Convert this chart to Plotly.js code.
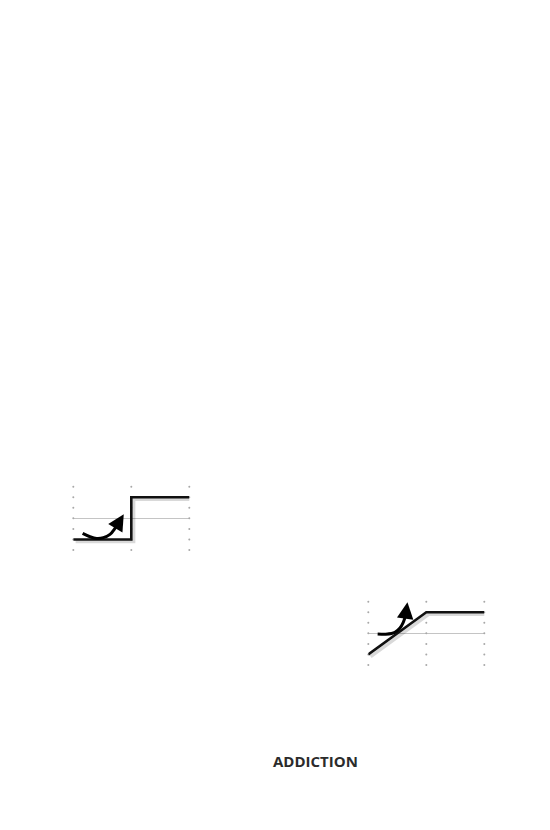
<!DOCTYPE html>
<html>
<head>
<meta charset="utf-8">
<script src="https://cdn.plot.ly/plotly-3.0.1.min.js"></script>
<style>html,body{margin:0;padding:0;background:#fff;}#chart{width:550px;height:830px;}</style>
</head>
<body>
<div id="chart"></div>
<script>
// grid dot positions (both panels)
const gridX = [0, 1, 2];
const gridY = [-3, -2, -1, 0, 1, 2, 3];

// panel 1: step response
const stepX = [0, 1, 1, 2];
const stepY = [-2, -2, 2, 2];
// panel 1 curved arrow
const arrow1X = [0.161, 0.288, 0.403, 0.518, 0.633, 0.719, 0.776];
const arrow1Y = [-1.425, -1.74, -1.90, -1.83, -1.52, -0.95, -0.47];
const arrow1Tip = [0.87, 0.40];

// panel 2: ramp response
const rampX = [0, 1, 2];
const rampY = [-2, 2, 2];
// panel 2 curved arrow
const arrow2X = [0.161, 0.30, 0.40, 0.46, 0.546, 0.603, 0.643];
const arrow2Y = [-0.06, -0.08, -0.02, 0.1, 0.51, 1.05, 1.68];
const arrow2Tip = [0.675, 2.94];

const labelText = "ADDICTION";

const W = 550, H = 830;
const shX = 0.04, shY = -0.2;

function gridTrace(xa, ya) {
  const xs = [], ys = [];
  gridX.forEach(x => gridY.forEach(y => { xs.push(x); ys.push(y); }));
  return {x: xs, y: ys, xaxis: xa, yaxis: ya, mode: 'markers', type: 'scatter',
    marker: {size: 2, color: '#a8a8a8'}, cliponaxis: false, hoverinfo: 'skip'};
}
function lineTrace(xs, ys, xa, ya, color, width, dx, dy) {
  return {x: xs.map(v => v + dx), y: ys.map(v => v + dy), xaxis: xa, yaxis: ya,
    mode: 'lines', type: 'scatter', line: {color: color, width: width},
    cliponaxis: false, hoverinfo: 'skip'};
}
function curveTrace(xs, ys, xa, ya) {
  return {x: xs, y: ys, xaxis: xa, yaxis: ya, mode: 'lines', type: 'scatter',
    line: {color: '#000', width: 3, shape: 'spline'}, cliponaxis: false, hoverinfo: 'skip'};
}

const data = [
  gridTrace('x', 'y'),
  lineTrace(stepX, stepY, 'x', 'y', 'rgba(0,0,0,0.15)', 3.5, shX, shY),
  lineTrace(stepX, stepY, 'x', 'y', '#111', 2.6, 0, 0),
  curveTrace(arrow1X, arrow1Y, 'x', 'y'),
  gridTrace('x2', 'y2'),
  lineTrace(rampX, rampY, 'x2', 'y2', 'rgba(0,0,0,0.15)', 3.5, shX, shY),
  lineTrace(rampX, rampY, 'x2', 'y2', '#111', 2.6, 0, 0),
  curveTrace(arrow2X, arrow2Y, 'x2', 'y2')
];

function xax(domain) {
  return {domain: domain, range: [0, 2], showgrid: false, zeroline: false,
    showticklabels: false, ticks: '', showline: false, fixedrange: true};
}
function yax(domain, anchor) {
  return {domain: domain, range: [-3, 3], showgrid: false, zeroline: true,
    zerolinecolor: '#c4c4c4', zerolinewidth: 1, showticklabels: false, ticks: '',
    showline: false, fixedrange: true, anchor: anchor};
}

const layout = {
  width: W, height: H,
  margin: {l: 0, r: 0, t: 0, b: 0},
  paper_bgcolor: '#fff', plot_bgcolor: 'rgba(0,0,0,0)',
  showlegend: false,
  xaxis: Object.assign(xax([73.3 / W, 189.3 / W]), {anchor: 'y'}),
  yaxis: yax([1 - 550 / H, 1 - 486.7 / H], 'x'),
  xaxis2: Object.assign(xax([368.3 / W, 484.3 / W]), {anchor: 'y2'}),
  yaxis2: yax([1 - 665 / H, 1 - 601.7 / H], 'x2'),
  annotations: [
    {xref: 'x', yref: 'y', axref: 'x', ayref: 'y',
     x: arrow1Tip[0], y: arrow1Tip[1],
     ax: arrow1X[arrow1X.length - 1], ay: arrow1Y[arrow1Y.length - 1],
     showarrow: true, arrowhead: 2, arrowsize: 1.1, arrowwidth: 3, arrowcolor: '#000', text: ''},
    {xref: 'x2', yref: 'y2', axref: 'x2', ayref: 'y2',
     x: arrow2Tip[0], y: arrow2Tip[1],
     ax: arrow2X[arrow2X.length - 1], ay: arrow2Y[arrow2Y.length - 1],
     showarrow: true, arrowhead: 2, arrowsize: 1.1, arrowwidth: 3, arrowcolor: '#000', text: ''},
    {xref: 'paper', yref: 'paper', x: 315 / W, y: 1 - 760.5 / H,
     xanchor: 'center', yanchor: 'middle', showarrow: false, text: labelText,
     font: {family: 'Open Sans, sans-serif', size: 15, weight: 700, color: '#2b2b2b'}}
  ]
};

Plotly.newPlot('chart', data, layout, {displayModeBar: false, staticPlot: true});
</script>
</body>
</html>
